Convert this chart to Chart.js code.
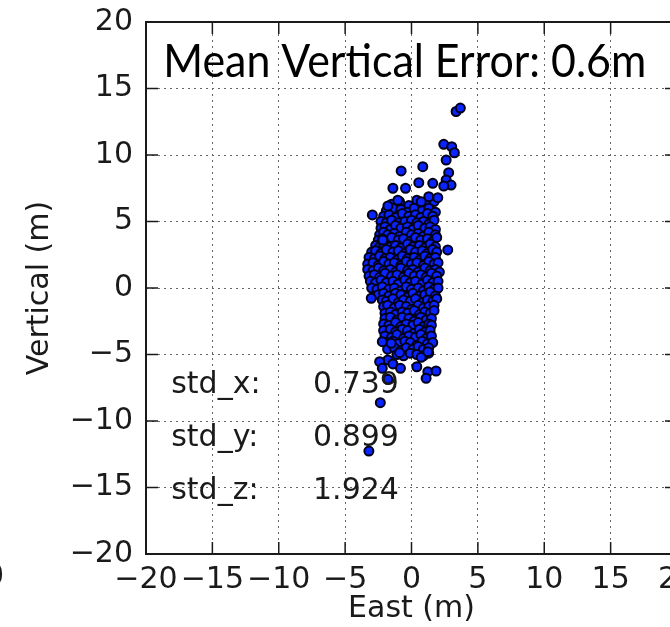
<!DOCTYPE html>
<html>
<head>
<meta charset="utf-8">
<script src="https://cdn.jsdelivr.net/npm/chart.js@4.4.1/dist/chart.umd.min.js"></script>
<style>
  html, body { margin: 0; padding: 0; background: #fff; overflow: hidden; }
  #wrap { position: relative; width: 670px; height: 627px; overflow: hidden; }
  #scatter { position: absolute; left: 0; top: 0; }
  #edge { position: absolute; left: -60px; top: 557px; width: 64px; text-align: right;
          font: 30px "DejaVu Sans"; color: #1a1a1a; }
</style>
</head>
<body>
<div id="wrap">
  <canvas id="scatter" width="700" height="627"></canvas>
  <div id="edge">20</div>
</div>
<script>
// axis ticks, metres
const ticks = [-20, -15, -10, -5, 0, 5, 10, 15, 20];
const tickText = ['\u221220', '\u221215', '\u221210', '\u22125', '0', '5', '10', '15', '20'];

// [east, vertical] fixes in metres
const upperTail = [
  [3.36, 13.27], [3.68, 13.53], [2.43, 10.8], [3.03, 10.62], [3.23, 10.17], [2.61, 9.62],
  [0.85, 9.12], [-0.78, 8.8], [2.8, 8.67], [2.61, 8.12], [0.55, 7.92], [2.98, 7.74],
  [1.6, 7.87], [2.43, 7.67], [-1.4, 7.5], [-0.45, 7.5], [1.3, 6.86], [1.98, 6.79],
  [-1.03, 6.6], [-1.78, 6.17], [0.73, 6.49], [-2.95, 5.49], [-2.16, 3.6], [2.73, 2.86],
  [-3.03, -0.77]
];

const core = [
  [-1.5, 6.3], [-0.9, 6.5], [-0.2, 6.2], [0.4, 6.6], [1.1, 6.3], [1.7, 6.5],
  [-1.9, 5.8], [-1.4, 6.0], [-0.8, 5.9], [-0.3, 5.7], [0.2, 6.0], [0.8, 5.8], [1.3, 6.0], [1.8, 5.7],
  [-2.1, 5.4], [-1.7, 5.5], [-1.2, 5.3], [-0.7, 5.6], [-0.2, 5.4], [0.3, 5.5], [0.7, 5.3], [1.2, 5.6], [1.6, 5.4],
  [-2.3, 5.0], [-1.9, 4.9], [-1.5, 5.1], [-1.0, 4.9], [-0.5, 5.0], [0.0, 5.1], [0.4, 4.9], [0.9, 5.0], [1.3, 4.8], [1.7, 5.1],
  [-2.3, 4.5], [-2.0, 4.6], [-1.6, 4.4], [-1.2, 4.7], [-0.8, 4.5], [-0.3, 4.6], [0.1, 4.4], [0.5, 4.7], [1.0, 4.5], [1.4, 4.6], [1.8, 4.4],
  [-2.4, 4.0], [-2.1, 4.2], [-1.8, 4.0], [-1.3, 4.1], [-0.9, 3.9], [-0.4, 4.2], [0.0, 4.0], [0.5, 4.1], [0.9, 3.9], [1.3, 4.2], [1.8, 4.0],
  [-2.5, 3.6], [-2.2, 3.7], [-1.9, 3.5], [-1.5, 3.8], [-1.0, 3.6], [-0.6, 3.7], [-0.1, 3.5], [0.3, 3.8], [0.7, 3.6], [1.2, 3.7], [1.6, 3.5], [1.9, 3.8],
  [-2.7, 3.2], [-2.4, 3.1], [-2.1, 3.3], [-1.6, 3.1], [-1.2, 3.2], [-0.8, 3.0], [-0.3, 3.3], [0.1, 3.1], [0.6, 3.2], [1.0, 3.0], [1.4, 3.3], [1.8, 3.1],
  [-3.0, 2.7], [-2.7, 2.8], [-2.3, 2.6], [-1.9, 2.9], [-1.4, 2.7], [-1.0, 2.8], [-0.5, 2.6], [-0.1, 2.9], [0.3, 2.7], [0.8, 2.8], [1.2, 2.6], [1.6, 2.9], [1.9, 2.7],
  [-3.2, 2.3], [-2.8, 2.2], [-2.4, 2.4], [-2.0, 2.2], [-1.6, 2.3], [-1.1, 2.1], [-0.7, 2.4], [-0.3, 2.2], [0.2, 2.3], [0.6, 2.1], [1.0, 2.4], [1.4, 2.2], [1.8, 2.3],
  [-3.3, 1.8], [-2.9, 1.9], [-2.5, 1.7], [-2.1, 2.0], [-1.7, 1.8], [-1.3, 1.9], [-0.8, 1.7], [-0.4, 2.0], [0.0, 1.8], [0.4, 1.9], [0.9, 1.7], [1.3, 2.0], [1.7, 1.8], [2.0, 1.9],
  [-3.3, 1.4], [-2.9, 1.3], [-2.5, 1.5], [-2.1, 1.3], [-1.6, 1.4], [-1.2, 1.2], [-0.8, 1.5], [-0.3, 1.3], [0.1, 1.4], [0.5, 1.2], [1.0, 1.5], [1.4, 1.3], [1.8, 1.4], [2.1, 1.2],
  [-3.2, 0.9], [-2.8, 1.0], [-2.4, 0.8], [-2.0, 1.1], [-1.5, 0.9], [-1.1, 1.0], [-0.6, 0.8], [-0.2, 1.1], [0.2, 0.9], [0.7, 1.0], [1.1, 0.8], [1.5, 1.1], [1.9, 0.9],
  [-3.1, 0.5], [-2.7, 0.4], [-2.3, 0.6], [-1.9, 0.4], [-1.4, 0.5], [-1.0, 0.3], [-0.5, 0.6], [-0.1, 0.4], [0.3, 0.5], [0.8, 0.3], [1.2, 0.6], [1.6, 0.4], [2.0, 0.5],
  [-3.0, 0.0], [-2.6, -0.1], [-2.2, 0.1], [-1.7, -0.1], [-1.3, 0.0], [-0.8, -0.2], [-0.4, 0.1], [0.0, -0.1], [0.5, 0.0], [0.9, -0.2], [1.3, 0.1], [1.7, -0.1], [2.0, 0.0],
  [-2.5, -0.5], [-2.1, -0.4], [-1.7, -0.6], [-1.2, -0.4], [-0.8, -0.5], [-0.3, -0.7], [0.1, -0.4], [0.6, -0.6], [1.0, -0.5], [1.4, -0.3], [1.8, -0.6],
  [-2.2, -0.9], [-1.9, -1.0], [-1.4, -0.8], [-1.0, -1.1], [-0.6, -0.9], [-0.1, -1.0], [0.3, -0.8], [0.8, -1.1], [1.2, -0.9], [1.6, -1.0], [1.9, -0.8],
  [-2.1, -1.4], [-1.8, -1.3], [-1.3, -1.5], [-0.9, -1.3], [-0.4, -1.4], [0.0, -1.6], [0.5, -1.3], [0.9, -1.5], [1.3, -1.4], [1.7, -1.3],
  [-2.0, -1.9], [-1.6, -1.8], [-1.2, -2.0], [-0.7, -1.8], [-0.3, -1.9], [0.2, -1.7], [0.6, -2.0], [1.0, -1.8], [1.4, -1.9], [1.7, -1.7],
  [-2.0, -2.3], [-1.6, -2.2], [-1.1, -2.4], [-0.7, -2.2], [-0.2, -2.3], [0.2, -2.5], [0.7, -2.2], [1.1, -2.4], [1.5, -2.3],
  [-2.1, -2.7], [-1.7, -2.8], [-1.2, -2.6], [-0.8, -2.9], [-0.4, -2.7], [0.1, -2.8], [0.5, -2.6], [0.9, -2.9], [1.3, -2.7], [1.5, -2.8],
  [-2.1, -3.2], [-1.6, -3.1], [-1.2, -3.3], [-0.7, -3.1], [-0.3, -3.2], [0.2, -3.4], [0.6, -3.1], [1.0, -3.3], [1.4, -3.2],
  [-2.0, -3.6], [-1.5, -3.7], [-1.1, -3.5], [-0.6, -3.8], [-0.2, -3.6], [0.3, -3.7], [0.7, -3.5], [1.1, -3.8], [1.5, -3.6],
  [-1.9, -4.1], [-1.4, -4.0], [-1.0, -4.2], [-0.5, -4.0], [-0.1, -4.1], [0.4, -4.3], [0.8, -4.0], [1.2, -4.2], [1.6, -4.1],
  [-1.8, -4.6], [-1.3, -4.5], [-0.8, -4.7], [-0.4, -4.5], [0.1, -4.6], [0.5, -4.4], [0.9, -4.6], [1.3, -4.5],
  [-1.1, -5.0], [-0.6, -5.1], [-0.1, -4.9], [0.4, -5.0], [0.9, -5.1], [1.3, -4.9]
];

const lowerTail = [
  [-2.2, -4.04], [-1.53, -4.16], [-0.9, -4.86], [-1.78, -5.41], [-2.4, -5.54], [-1.4, -5.71],
  [-2.2, -6.04], [-0.83, -6.04], [0.4, -5.92], [1.23, -6.29], [1.85, -6.24], [1.1, -6.79],
  [-1.78, -6.87], [-2.35, -8.62], [0.73, -5.21], [1.23, -4.79], [-3.21, -12.26]
];

const statNames = ['std_x:', 'std_y:', 'std_z:'];
const statValues = ['0.739', '0.899', '1.924'];
const titleText = 'Mean Vertical Error: 0.6m';

const ink = '#1a1a1a';
const labelFont = { family: '"DejaVu Sans"', size: 30 };

// matplotlib-like box: full frame, inward ticks, text annotations
const frame = {
  id: 'frame',
  afterDatasetsDraw(chart) {
    const { ctx, chartArea: a, scales: { x, y } } = chart;
    ctx.save();
    ctx.strokeStyle = ink;
    ctx.lineWidth = 1.5;
    ctx.beginPath();
    ticks.forEach(v => {
      const px = x.getPixelForValue(v);
      const py = y.getPixelForValue(v);
      ctx.moveTo(px, a.bottom); ctx.lineTo(px, a.bottom - 12);
      ctx.moveTo(px, a.top); ctx.lineTo(px, a.top + 12);
      ctx.moveTo(a.left, py); ctx.lineTo(a.left + 12, py);
      ctx.moveTo(a.right, py); ctx.lineTo(a.right - 12, py);
    });
    ctx.stroke();
    ctx.lineWidth = 2;
    ctx.strokeRect(a.left, a.top, a.right - a.left, a.bottom - a.top);

    ctx.fillStyle = ink;
    ctx.font = '30px "DejaVu Sans"';
    ctx.textBaseline = 'alphabetic';
    statNames.forEach((name, i) => {
      const by = y.getPixelForValue(-7.9 - 4 * i);
      ctx.textAlign = 'left';
      ctx.fillText(name, x.getPixelForValue(-18.1), by);
      ctx.textAlign = 'right';
      ctx.fillText(statValues[i], x.getPixelForValue(-0.95), by);
    });

    // headline, squeezed to the width of the narrower original face
    ctx.fillStyle = '#000';
    ctx.font = '46px Lato';
    ctx.textAlign = 'left';
    const w = ctx.measureText(titleText).width;
    ctx.translate(x.getPixelForValue(-18.7), y.getPixelForValue(15.9));
    ctx.scale(483 / w, 1);
    ctx.fillText(titleText, 0, 0);
    ctx.restore();
  }
};

// outward tick marks are kept but invisible, so they only push the labels off the axis
const axis = (title, gap, fitSide) => ({
  type: 'linear',
  min: -20,
  max: 20,
  afterBuildTicks: s => { s.ticks = ticks.map(v => ({ value: v })); },
  afterFit: fitSide,
  grid: { color: '#666', lineWidth: 1, drawTicks: true, tickLength: gap, tickColor: 'rgba(0,0,0,0)' },
  border: { display: false, dash: [2, 4] },
  ticks: {
    autoSkip: false, maxRotation: 0, minRotation: 0, padding: 0,
    color: ink, font: labelFont,
    callback: v => tickText[ticks.indexOf(v)]
  },
  title: { display: true, text: title, color: ink, font: labelFont }
});

const xAxis = axis('East (m)', 8, s => { s.height = 73; });
xAxis.title.padding = { top: 0, bottom: 0 };
const yAxis = axis('Vertical (m)', 13, s => { s.width = 146; });
yAxis.title.padding = { top: 22, bottom: 0 };

new Chart(document.getElementById('scatter'), {
  type: 'scatter',
  data: {
    datasets: [{
      data: [...core, ...lowerTail, ...upperTail].map(([e, v]) => ({ x: e, y: v })),
      backgroundColor: '#0a24ff',
      borderColor: '#000018',
      borderWidth: 2,
      pointRadius: 4.5
    }]
  },
  options: {
    responsive: false,
    animation: false,
    layout: { padding: { left: 0, right: 23, top: 22, bottom: 0 } },
    plugins: { legend: { display: false }, tooltip: { enabled: false } },
    scales: { x: xAxis, y: yAxis }
  },
  plugins: [frame]
});
</script>
</body>
</html>
